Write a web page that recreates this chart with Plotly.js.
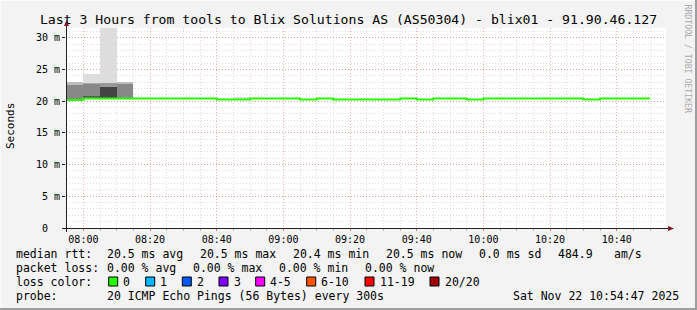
<!DOCTYPE html>
<html>
<head>
<meta charset="utf-8">
<script src="https://cdn.plot.ly/plotly-3.0.1.min.js"></script>
<style>
html,body{margin:0;padding:0;background:#f3f3f3;}
#chart{width:697px;height:310px;}
</style>
</head>
<body>
<div id="chart"></div>
<script>
// ---- data ----
const day = '2025-11-22 ';
const stepTimes = ['07:55','08:00','08:05','08:10','08:15','08:20','08:25','08:30','08:35','08:40',
  '08:45','08:50','08:55','09:00','09:05','09:10','09:15','09:20','09:25','09:30',
  '09:35','09:40','09:45','09:50','09:55','10:00','10:05','10:10','10:15','10:20',
  '10:25','10:30','10:35','10:40','10:45','10:50'];
const medianRtt = [20.20,20.43,20.43,20.43,20.43,20.43,20.43,20.43,20.43,20.28,
  20.28,20.43,20.43,20.43,20.28,20.43,20.28,20.28,20.28,20.28,
  20.43,20.28,20.43,20.43,20.28,20.43,20.43,20.43,20.43,20.43,
  20.43,20.28,20.43,20.43,20.43,20.43];

// smoke bands (ping spread), per shade layer: start time, low, high
const smokeLightT  = ['08:00','08:05','08:45'];
const smokeLightLo = [22.9, 22.9, 20.35];
const smokeLightHi = [24.3, 45.0, 20.62];
const smokeEdgeT   = ['07:55','08:00','08:05','08:10'];
const smokeEdgeLo  = [22.6, 22.7, 22.3, 22.7];
const smokeEdgeHi  = [23.0, 22.9, 22.9, 23.0];
const smokeEdgeCol = ['#bbbbbb','#aaaaaa','#999999','#bbbbbb'];
const smokeMidT    = ['07:55','08:00','08:10'];
const smokeMidLo   = [20.3, 20.8, 20.3];
const smokeMidHi   = [22.6, 22.7, 22.7];
const smokeDarkT   = ['08:00','08:05'];
const smokeDarkLo  = [20.3, 20.3];
const smokeDarkHi  = [20.8, 22.3];
const smokeDarkCol = ['#555555','#444444'];

const yTickVals = [0,5,10,15,20,25,30];
const yTickText = ['0\u00a0\u00a0','5 m','10 m','15 m','20 m','25 m','30 m'];

const lossLabels = ['0','1','2','3','4-5','6-10','11-19','20/20'];
const lossColors = ['#26ff00','#00b8ff','#0059ff','#7e00ff','#ff00ff','#ff5500','#ff0000','#a10000'];

const titleText = 'Last 3 Hours from tools to Blix Solutions AS (AS50304) - blix01 - 91.90.46.127';
const rttLabel = 'median rtt:';
const rttStats = ['20.5 ms avg','20.5 ms max','20.4 ms min','20.5 ms now','0.0 ms sd','484.9','am/s'];
const lossLabel = 'packet loss:';
const lossStats = ['0.00 % avg','0.00 % max','0.00 % min','0.00 % now'];
const probeLabel = 'probe:';
const probeText = '20 ICMP Echo Pings (56 Bytes) every 300s';
const stampText = 'Sat Nov 22 10:54:47 2025';

// ---- layout helpers ----
const L = 66, R = 666, T = 28, B = 228, W = 697, H = 310;
const px = v => (v - L) / (R - L);
const py = v => (B - v) / (B - T);
const nb = s => s.replace(/ /g, '\u00a0');
const mono = 'DejaVu Sans Mono, monospace';

function bandTrace(t, lo, hi, col) {
  return {
    type: 'bar', x: t.map(s => day + s), base: lo, y: hi.map((h, i) => h - lo[i]),
    width: 300000, offset: 0, marker: {color: col, line: {width: 0}},
    hoverinfo: 'skip', showlegend: false
  };
}

const traces = [
  bandTrace(smokeLightT, smokeLightLo, smokeLightHi, '#dddddd'),
  bandTrace(smokeEdgeT, smokeEdgeLo, smokeEdgeHi, smokeEdgeCol),
  bandTrace(smokeMidT, smokeMidLo, smokeMidHi, '#888888'),
  bandTrace(smokeDarkT, smokeDarkLo, smokeDarkHi, smokeDarkCol),
  {type: 'scatter', mode: 'lines', x: stepTimes.map(s => day + s), y: medianRtt,
   line: {color: '#26ff00', width: 2, shape: 'hv'}, hoverinfo: 'skip', showlegend: false}
];

const ann = [];
function txt(x, y, s, opt) {
  ann.push(Object.assign({xref: 'paper', yref: 'paper', x: px(x), y: py(y), text: nb(s),
    showarrow: false, xanchor: 'left', yanchor: 'middle', borderpad: 0, borderwidth: 0,
    font: {family: mono, size: 11.5, color: '#000'}}, opt || {}));
}
// row 1
txt(16, 254.3, rttLabel);
const rttX = [107.3, 200, 293.3, 386, 479.3, 558.3, 614.3];
rttStats.forEach((s, i) => txt(rttX[i], 254.3, s));
// row 2
txt(16, 267.7, lossLabel);
const lossX = [107.3, 193.3, 279.3, 365];
lossStats.forEach((s, i) => txt(lossX[i], 267.7, s));
// row 3
txt(16, 281.7, 'loss color:');
const boxX = [108.7, 145.7, 182.3, 219, 255.7, 306.7, 365, 430];
const shapes = [];
lossLabels.forEach((s, i) => {
  shapes.push({type: 'rect', xref: 'paper', yref: 'paper', x0: px(boxX[i]), x1: px(boxX[i] + 9),
    y0: py(277), y1: py(286), fillcolor: lossColors[i], line: {color: '#000', width: 1}});
  txt(boxX[i] + 14.5, 281.7, s);
});
// row 4
txt(16, 295.7, probeLabel);
txt(107.3, 295.7, probeText);
txt(513.3, 295.7, stampText);
// y label
ann.push({xref: 'paper', yref: 'paper', x: px(10), y: py(126), text: 'Seconds', textangle: -90,
  showarrow: false, xanchor: 'center', yanchor: 'middle', borderpad: 0,
  font: {family: mono, size: 11, color: '#000'}});
// watermark
ann.push({xref: 'paper', yref: 'paper', x: px(687.5), y: py(59), text: nb('RRDTOOL / TOBI OETIKER'), textangle: 90,
  showarrow: false, xanchor: 'center', yanchor: 'middle', borderpad: 0,
  font: {family: mono, size: 8.2, color: '#aaaaaa'}});

// frame + axes with arrows
shapes.push(
  {type: 'rect', xref: 'paper', yref: 'paper', x0: px(0), x1: px(697), y0: py(308), y1: py(310), fillcolor: '#9e9e9e', line: {width: 0}},
  {type: 'rect', xref: 'paper', yref: 'paper', x0: px(695), x1: px(697), y0: py(310), y1: py(0), fillcolor: '#9e9e9e', line: {width: 0}},
  {type: 'rect', xref: 'paper', yref: 'paper', x0: px(0), x1: px(695), y0: py(1), y1: py(0), fillcolor: '#fcfcfc', line: {width: 0}},
  {type: 'rect', xref: 'paper', yref: 'paper', x0: px(0), x1: px(1), y0: py(308), y1: py(0), fillcolor: '#fcfcfc', line: {width: 0}},
  {type: 'line', xref: 'paper', yref: 'paper', x0: px(62), x1: px(669), y0: py(228.5), y1: py(228.5), line: {color: '#222', width: 1}},
  {type: 'line', xref: 'paper', yref: 'paper', x0: px(66.5), x1: px(66.5), y0: py(232), y1: py(24), line: {color: '#222', width: 1}},
  {type: 'path', xref: 'paper', yref: 'paper',
   path: 'M' + px(668) + ',' + py(226) + ' L' + px(674) + ',' + py(228.5) + ' L' + px(668) + ',' + py(231) + ' Z',
   fillcolor: '#7f1d1d', line: {width: 0}},
  {type: 'path', xref: 'paper', yref: 'paper',
   path: 'M' + px(64) + ',' + py(26) + ' L' + px(66.5) + ',' + py(20) + ' L' + px(69) + ',' + py(26) + ' Z',
   fillcolor: '#7f1d1d', line: {width: 0}}
);

const layout = {
  width: W, height: H,
  margin: {l: L, r: W - R, t: T, b: H - B, pad: 0},
  paper_bgcolor: '#f3f3f3', plot_bgcolor: '#ffffff',
  barmode: 'overlay', bargap: 0,
  showlegend: false,
  title: {text: titleText, font: {family: mono, size: 13.15, color: '#000'},
    x: 0.5, xref: 'container', xanchor: 'center', y: 1 - 19.5 / H, yref: 'container', yanchor: 'middle'},
  xaxis: {type: 'date', range: [day + '07:54:47', day + '10:54:47'],
    tick0: day + '08:00', dtick: 1200000, tickformat: '%H:%M',
    showgrid: true, gridcolor: 'rgba(222,80,80,0.45)', griddash: '1px,2px', gridwidth: 1,
    minor: {dtick: 300000, tick0: day + '08:00', showgrid: true, gridcolor: 'rgba(143,143,143,0.3)', griddash: '1px,2px', gridwidth: 1,
      ticks: 'outside', ticklen: 2, tickcolor: 'rgba(143,143,143,0.6)'},
    ticks: 'outside', ticklen: 2, tickcolor: 'rgba(222,80,80,0.8)',
    showline: false, zeroline: false, fixedrange: true,
    tickfont: {family: mono, size: 10, color: '#000'}},
  yaxis: {range: [0, 31.55], tickvals: yTickVals, ticktext: yTickText,
    showgrid: true, gridcolor: 'rgba(222,80,80,0.45)', griddash: '1px,2px', gridwidth: 1,
    minor: {dtick: 1, tick0: 0, showgrid: true, gridcolor: 'rgba(143,143,143,0.3)', griddash: '1px,2px', gridwidth: 1},
    ticks: 'outside', ticklen: 3, tickcolor: '#222', ticklabelstandoff: 0,
    showline: false, zeroline: false, fixedrange: true,
    tickfont: {family: mono, size: 10, color: '#000'}},
  annotations: ann,
  shapes: shapes
};

Plotly.newPlot('chart', traces, layout, {staticPlot: true, displayModeBar: false});
</script>
</body>
</html>
